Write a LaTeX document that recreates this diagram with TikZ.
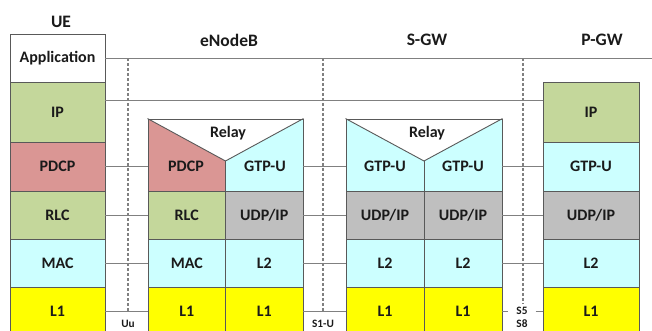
\documentclass[tikz,border=0pt]{standalone}
\usepackage{fontspec}
\setmainfont{Carlito}
\definecolor{ipg}{HTML}{C4D79B}
\definecolor{pdcpc}{HTML}{DA9694}
\definecolor{cyanc}{HTML}{CCFFFF}
\definecolor{yel}{HTML}{FFFF00}
\definecolor{grayc}{HTML}{BFBFBF}
\definecolor{bordc}{HTML}{595959}
\definecolor{linec}{HTML}{808080}
\definecolor{txtc}{HTML}{1A1A1A}
\begin{document}
\begin{tikzpicture}[x=1pt,y=-1pt,
  cell/.style={draw=bordc, line width=0.9pt, inner sep=0pt, font=\bfseries\fontsize{16}{19}\selectfont, text=txtc},
  cellline/.style={draw=bordc, line width=0.9pt},
  txt/.style={inner sep=0pt, text=txtc, font=\bfseries\fontsize{16}{19}\selectfont},
  link/.style={draw=linec, line width=0.8pt},
  iface/.style={draw=linec, line width=1.1pt, dash pattern=on 3pt off 2pt},
  lbl/.style={font=\bfseries\fontsize{11.3}{13}\selectfont, text=txtc, inner sep=0pt},
  ttl/.style={font=\bfseries\fontsize{17.5}{20}\selectfont, text=txtc, inner sep=0pt}]
\useasboundingbox (0,0) rectangle (652,330);
\clip (0,0) rectangle (652,330);
% titles
\node[ttl] (uet) at (61,22) {UE};
\node[ttl] (enbt) at (229,40) {eNodeB};
\node[ttl] (sgwt) at (427,40) {S-GW};
\node[ttl] (pgwt) at (602,40) {P-GW};
% UE stack
\node[cell, fill=white, minimum width=95pt, minimum height=48pt] (ueapp) at (57.5,58) {Application};
\node[cell, fill=ipg, minimum width=95pt, minimum height=60pt] (ueip) at (57.5,112) {IP};
\node[cell, fill=pdcpc, minimum width=95pt, minimum height=49pt] (uepdcp) at (57.5,166.5) {PDCP};
\node[cell, fill=ipg, minimum width=95pt, minimum height=48pt] (uerlc) at (57.5,215) {RLC};
\node[cell, fill=cyanc, minimum width=95pt, minimum height=48pt] (uemac) at (57.5,263) {MAC};
\node[cell, fill=yel, minimum width=95pt, minimum height=48pt] (uel1) at (57.5,311) {L1};
% eNodeB
\fill[pdcpc] (148,119) -- (225.5,161) -- (225.5,191) -- (148,191) -- cycle;
\fill[cyanc] (225.5,161) -- (303,119) -- (303,191) -- (225.5,191) -- cycle;
\node[cell, minimum width=155pt, minimum height=72pt] (enbf) at (225.5,155) {};
\coordinate (enbv) at (225.5,161);
\draw[cellline] (enbf.north west) -- (enbv) -- (enbf.north east);
\draw[cellline] (enbv) -- (enbf.south);
\node[txt] (enbrelay) at (228,133) {Relay};
\node[txt] (enbpdcp) at (186,166) {PDCP};
\node[txt] (enbgtp) at (265,166) {GTP-U};
\node[cell, fill=ipg, minimum width=77.5pt, minimum height=48pt] (enbrlc) at (186.75,215) {RLC};
\node[cell, fill=grayc, minimum width=77.5pt, minimum height=48pt] (enbudp) at (264.25,215) {UDP/IP};
\node[cell, fill=cyanc, minimum width=77.5pt, minimum height=48pt] (enbmac) at (186.75,263) {MAC};
\node[cell, fill=cyanc, minimum width=77.5pt, minimum height=48pt] (enbl2) at (264.25,263) {L2};
\node[cell, fill=yel, minimum width=77.5pt, minimum height=48pt] (enbl1a) at (186.75,311) {L1};
\node[cell, fill=yel, minimum width=77.5pt, minimum height=48pt] (enbl1b) at (264.25,311) {L1};
% S-GW
\fill[cyanc] (346,119) -- (424,161) -- (502,119) -- (502,191) -- (346,191) -- cycle;
\node[cell, minimum width=156pt, minimum height=72pt] (sgwf) at (424,155) {};
\coordinate (sgwv) at (424,161);
\draw[cellline] (sgwf.north west) -- (sgwv) -- (sgwf.north east);
\draw[cellline] (sgwv) -- (sgwf.south);
\node[txt] (sgwrelay) at (427,133) {Relay};
\node[txt] (sgwgtpa) at (385,166) {GTP-U};
\node[txt] (sgwgtpb) at (463,166) {GTP-U};
\node[cell, fill=grayc, minimum width=78pt, minimum height=48pt] (sgwudpa) at (385,215) {UDP/IP};
\node[cell, fill=grayc, minimum width=78pt, minimum height=48pt] (sgwudpb) at (463,215) {UDP/IP};
\node[cell, fill=cyanc, minimum width=78pt, minimum height=48pt] (sgwl2a) at (385,263) {L2};
\node[cell, fill=cyanc, minimum width=78pt, minimum height=48pt] (sgwl2b) at (463,263) {L2};
\node[cell, fill=yel, minimum width=78pt, minimum height=48pt] (sgwl1a) at (385,311) {L1};
\node[cell, fill=yel, minimum width=78pt, minimum height=48pt] (sgwl1b) at (463,311) {L1};
% P-GW
\node[cell, fill=ipg, minimum width=96pt, minimum height=60pt] (pgwip) at (591,112) {IP};
\node[cell, fill=cyanc, minimum width=96pt, minimum height=49pt] (pgwgtp) at (591,166.5) {GTP-U};
\node[cell, fill=grayc, minimum width=96pt, minimum height=48pt] (pgwudp) at (591,215) {UDP/IP};
\node[cell, fill=cyanc, minimum width=96pt, minimum height=48pt] (pgwl2) at (591,263) {L2};
\node[cell, fill=yel, minimum width=96pt, minimum height=48pt] (pgwl1) at (591,311) {L1};
% interface labels
\node[lbl] (uu) at (128,324) {Uu};
\node[lbl] (s1u) at (323,324) {S1-U};
\node[lbl, inner xsep=8pt, inner ysep=3pt] (s5) at (522,311) {S5};
\node[lbl] (s8) at (522,324) {S8};
% peer links
\coordinate (rightend) at (652,58);
\draw[link] (ueapp.east) -- (rightend);
\draw[link] ([yshift=12pt]ueip.east) -- ([yshift=12pt]pgwip.west);
\draw[link] (uepdcp.east) -- (uepdcp.east -| enbf.west);
\draw[link] (uerlc.east) -- (enbrlc.west);
\draw[link] (uemac.east) -- (enbmac.west);
\draw[link] (uel1.east) -- (enbl1a.west);
\draw[link] (uepdcp.east -| enbf.east) -- (uepdcp.east -| sgwf.west);
\draw[link] (enbudp.east) -- (sgwudpa.west);
\draw[link] (enbl2.east) -- (sgwl2a.west);
\draw[link] (enbl1b.east) -- (sgwl1a.west);
\draw[link] (pgwgtp.west -| sgwf.east) -- (pgwgtp.west);
\draw[link] (sgwudpb.east) -- (pgwudp.west);
\draw[link] (sgwl2b.east) -- (pgwl2.west);
\draw[link] (sgwl1b.east) -- (s5.west);
\draw[link] (s5.east) -- (pgwl1.west);
% reference points
\coordinate (uutop) at (128,58);
\coordinate (uubot) at (128,311);
\draw[iface] (uutop) -- (uubot);
\coordinate (s1top) at (323,58);
\coordinate (s1bot) at (323,311);
\draw[iface] (s1top) -- (s1bot);
\coordinate (s5top) at (523,58);
\draw[iface] (s5top) -- (s5.north -| s5top);
\end{tikzpicture}
\end{document}
